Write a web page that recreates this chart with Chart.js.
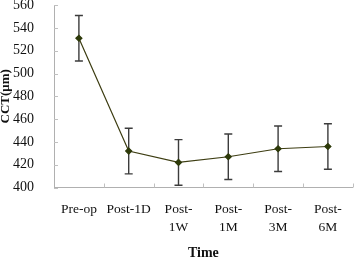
<!DOCTYPE html>
<html>
<head>
<meta charset="utf-8">
<script src="https://cdn.jsdelivr.net/npm/chart.js@4"></script>
<style>
  html, body { margin: 0; padding: 0; background: #fff; }
  #wrap { width: 358px; height: 262px; }
</style>
</head>
<body>
<div id="wrap"><canvas id="cct"></canvas></div>
<script>
var categories = [["Pre-op"], ["Post-1D"], ["Post-", "1W"], ["Post-", "1M"], ["Post-", "3M"], ["Post-", "6M"]];
var cctMean = [531, 432, 422, 427, 434, 436];
var cctSD = [20, 20, 20, 20, 20, 20];
var yTicks = [400, 420, 440, 460, 480, 500, 520, 540, 560];

// error bars drawn from the y scale
var errorBars = {
  id: 'errorBars',
  beforeDatasetsDraw: function(chart) {
    var ctx = chart.ctx;
    var meta = chart.getDatasetMeta(0);
    var ys = chart.scales.y;
    ctx.save();
    ctx.strokeStyle = '#3c3c3c';
    ctx.lineWidth = 1.4;
    meta.data.forEach(function(pt, i) {
      var x = pt.x;
      var top = ys.getPixelForValue(cctMean[i] + cctSD[i]);
      var bot = ys.getPixelForValue(cctMean[i] - cctSD[i]);
      ctx.beginPath();
      ctx.moveTo(x, top); ctx.lineTo(x, bot);
      ctx.moveTo(x - 4, top); ctx.lineTo(x + 4, top);
      ctx.moveTo(x - 4, bot); ctx.lineTo(x + 4, bot);
      ctx.stroke();
    });
    ctx.restore();
  }
};

// small inward tick marks like the original
var innerTicks = {
  id: 'innerTicks',
  beforeDatasetsDraw: function(chart) {
    var ctx = chart.ctx;
    var xs = chart.scales.x, ys = chart.scales.y;
    var a = chart.chartArea;
    var half = (xs.getPixelForValue(1) - xs.getPixelForValue(0)) / 2;
    ctx.save();
    ctx.strokeStyle = '#c0c0c0';
    ctx.lineWidth = 1;
    ctx.beginPath();
    for (var i = 1; i <= categories.length; i++) {
      var x = Math.round(xs.getPixelForValue(i) - half) + 0.5;
      ctx.moveTo(x, a.bottom); ctx.lineTo(x, a.bottom - 4);
    }
    yTicks.forEach(function(v) {
      var y = Math.round(ys.getPixelForValue(v)) + 0.5;
      ctx.moveTo(a.left, y); ctx.lineTo(a.left + 4, y);
    });
    ctx.stroke();
    ctx.restore();
  }
};

var ctx = document.getElementById("cct");
var chart = new Chart(ctx, {
  type: 'line',
  data: {
    labels: categories,
    datasets: [{
      data: cctMean,
      borderColor: '#3d3d12',
      borderWidth: 1.2,
      backgroundColor: '#2e3a0a',
      pointBackgroundColor: '#2e3a0a',
      pointBorderColor: '#2e3a0a',
      pointStyle: 'rectRot',
      pointRadius: 3,
      tension: 0
    }]
  },
  options: {
    responsive: true,
    maintainAspectRatio: false,
    animation: false,
    layout: { padding: { top: 0, right: -4, left: -2, bottom: 0 } },
    plugins: {
      legend: { display: false },
      tooltip: { enabled: false }
    },
    scales: {
      x: {
        offset: true,
        grid: { display: false },
        border: { color: '#b0b0b0' },
        afterFit: function(axis) { axis.height = 74.5; axis.paddingLeft = 0; axis.paddingRight = 0; },
        ticks: { color: '#111', font: { family: 'Liberation Serif', size: 13.5, lineHeight: 1.38 }, padding: 4.5, maxRotation: 0, autoSkip: false },
        title: { display: true, text: 'Time', color: '#111', font: { family: 'Liberation Serif', size: 14, weight: 'bold' }, padding: { top: 8, bottom: 0 } }
      },
      y: {
        min: 400,
        max: 560,
        afterBuildTicks: function(axis) {
          axis.ticks = yTicks.map(function(v) { return { value: v }; });
        },
        afterFit: function(axis) { axis.width = 56; axis.paddingTop = 5; axis.paddingBottom = 0; },
        grid: { display: false },
        border: { color: '#b0b0b0' },
        ticks: { color: '#111', font: { family: 'Liberation Serif', size: 14 }, padding: 12 },
        title: { display: true, text: 'CCT(μm)', color: '#111', font: { family: 'Liberation Serif', size: 13, weight: 'bold' }, padding: { top: 0, bottom: 1 } }
      }
    }
  },
  plugins: [innerTicks, errorBars]
});
</script>
</body>
</html>
